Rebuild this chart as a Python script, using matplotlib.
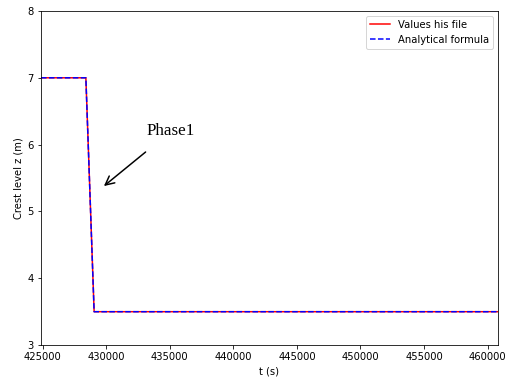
import matplotlib.pyplot as plt

# crest level over time
t_file = [424870, 428400, 429050, 460810]
z_file = [7.0, 7.0, 3.5, 3.5]
t_formula = [424870, 428400, 429050, 460810]
z_formula = [7.0, 7.0, 3.5, 3.5]

x_ticks = [425000, 430000, 435000, 440000, 445000, 450000, 455000, 460000]
y_ticks = [3, 4, 5, 6, 7, 8]


def make_plot():
    fig = plt.figure(figsize=(506 / 72, 378 / 72), dpi=72)
    ax = fig.add_axes([0.081, 0.087, 0.903, 0.884])
    ax.plot(t_file, z_file, color='red', linestyle='-', label='Values his file')
    ax.plot(t_formula, z_formula, color='blue', linestyle='--', label='Analytical formula')
    ax.set_xlim(t_file[0], t_file[-1])
    ax.set_ylim(3, 8)
    ax.set_xticks(x_ticks)
    ax.set_yticks(y_ticks)
    ax.set_xlabel('t (s)')
    ax.set_ylabel('Crest level z (m)')
    ax.legend(loc='upper right')
    ax.annotate('Phase1', xy=(429820, 5.38), xytext=(433200, 6.2),
                fontsize=17, family='Liberation Serif', va='center',
                arrowprops=dict(arrowstyle='->', color='black', lw=1.5,
                                shrinkA=17, shrinkB=0, mutation_scale=22))
    fig.savefig('out.png', dpi=72)


if __name__ == "__main__":
    make_plot()
